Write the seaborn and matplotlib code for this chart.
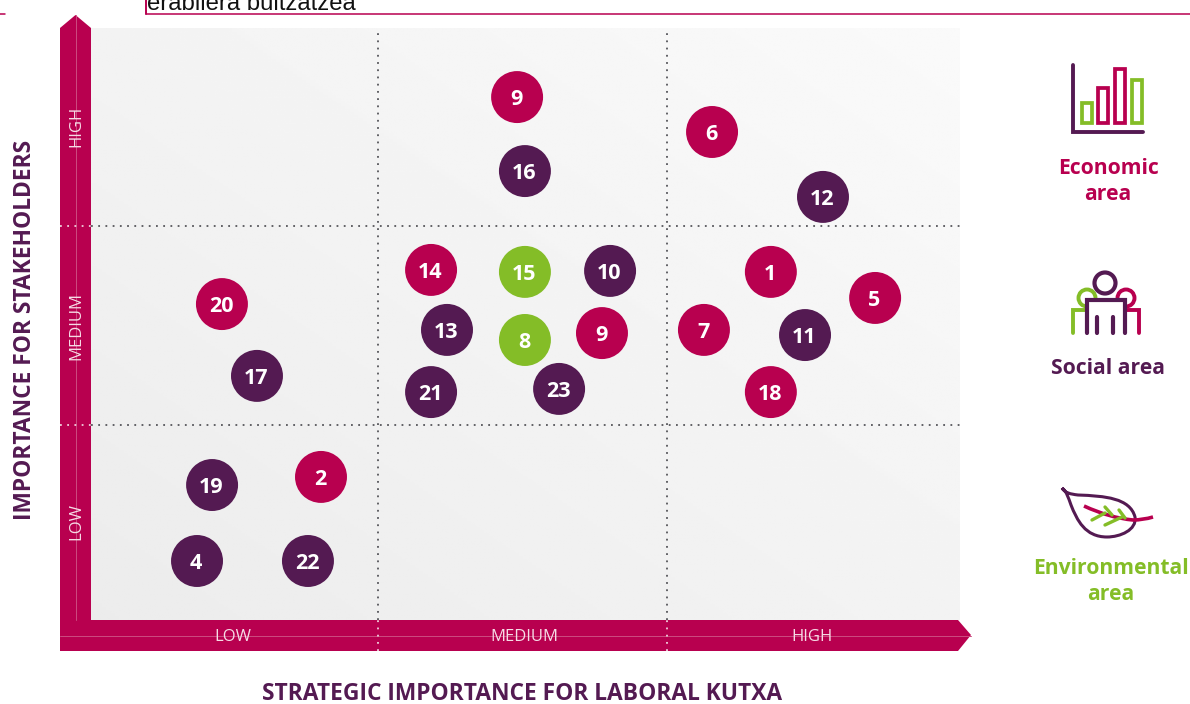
import numpy as np
import pandas as pd
import matplotlib
matplotlib.use("Agg")
import matplotlib.pyplot as plt
from matplotlib.patches import Polygon, Circle, Rectangle, PathPatch
from matplotlib.path import Path
import seaborn as sns

# ---- data (x: strategic importance, y: stakeholder importance; 0-3 scale)
labels = ["9", "16", "6", "12", "14", "15", "10", "1", "5", "20", "13", "9", "7", "8",
          "11", "17", "21", "23", "18", "19", "2", "4", "22"]
x_vals = [1.471, 1.498, 2.144, 2.527, 1.174, 1.498, 1.792, 2.347, 2.707, 0.452, 1.229, 1.764,
          2.116, 1.498, 2.465, 0.573, 1.174, 1.616, 2.347, 0.418, 0.794, 0.366, 0.749]
y_vals = [2.650, 2.275, 2.473, 2.144, 1.774, 1.764, 1.769, 1.764, 1.632, 1.601, 1.470, 1.454,
          1.470, 1.419, 1.444, 1.237, 1.155, 1.171, 1.155, 0.684, 0.725, 0.299, 0.299]
areas = ["Economic", "Social", "Economic", "Social", "Economic", "Environmental", "Social",
         "Economic", "Economic", "Economic", "Social", "Economic", "Economic", "Environmental",
         "Social", "Social", "Social", "Social", "Economic", "Social", "Economic", "Social", "Social"]
level_names = ["LOW", "MEDIUM", "HIGH"]
x_level_centers = [0.49, 1.495, 2.49]
y_level_centers = [0.50, 1.49, 2.50]
dividers_x = [0.99, 1.99]
dividers_y = [0.988, 1.997]

RED, PURPLE, GREEN = "#B8004F", "#541A52", "#84BD27"
palette = {"Economic": RED, "Social": PURPLE, "Environmental": GREEN}
df = pd.DataFrame({"x": x_vals, "y": y_vals, "area": areas, "label": labels})

sns.set_theme(style="white")
plt.rcParams["font.family"] = ["Open Sans", "DejaVu Sans"]

W, H = 1190, 704
fig = plt.figure(figsize=(W / 100, H / 100), dpi=100, facecolor="white")

# ---- overlay in pixel coordinates for page furniture and icons
bg = fig.add_axes([0, 0, 1, 1], zorder=0)
bg.set_xlim(0, W)
bg.set_ylim(H, 0)
bg.axis("off")

# stray header fragment
bg.plot([0, 5], [14, 14], color=RED, lw=1.1)
bg.plot([146, 1190], [14, 14], color=RED, lw=1.1)
bg.plot([146, 146], [0, 14], color=RED, lw=1.4)
bg.text(147, 10, "erabilera buitzatzea", family="Liberation Sans", fontsize=17.2,
        color="#111111", ha="left", va="baseline", clip_on=True)

# arrows
bg.add_patch(Polygon([(60, 651), (60, 28), (75.5, 15), (91, 28), (91, 651)], closed=True, fc=RED, ec="none"))
bg.add_patch(Polygon([(60, 620), (958, 620), (971, 635), (958, 651), (60, 651)], closed=True, fc=RED, ec="none"))
bg.plot([75.5, 75.5], [15, 620], color="#CC4C80", lw=0.7)
bg.plot([60, 971], [635.5, 635.5], color="#CC4C80", lw=0.7)

# economic icon
bg.plot([1073, 1073, 1143], [65, 132, 132], color=PURPLE, lw=2.8, solid_joinstyle="miter")
for (x0, x1, y0, c) in [(1082, 1092, 103, GREEN), (1098, 1108, 88, RED),
                        (1115, 1125, 69, RED), (1132, 1142, 80, GREEN)]:
    bg.add_patch(Rectangle((x0, y0), x1 - x0, 123 - y0, fc="none", ec=c, lw=2.7))

# social icon
bg.add_patch(Circle((1087, 298), 8.5, fc="none", ec=GREEN, lw=2.8))
bg.add_patch(Circle((1126, 298), 8.5, fc="none", ec=RED, lw=2.8))
bg.plot([1073, 1073, 1087], [333, 310, 310], color=GREEN, lw=2.8, solid_joinstyle="miter")
bg.plot([1139, 1139, 1125], [333, 310, 310], color=RED, lw=2.8, solid_joinstyle="miter")
bg.add_patch(Rectangle((1087, 300), 38, 33, fc="white", ec="none", zorder=3))
bg.add_patch(Circle((1105, 283), 10.5, fc="white", ec=PURPLE, lw=3.0, zorder=4))
bg.plot([1087, 1087, 1125, 1125], [333, 300, 300, 333], color=PURPLE, lw=3.0, solid_joinstyle="miter", zorder=5)
bg.plot([1097, 1097], [317, 333], color=PURPLE, lw=3.0, zorder=5)
bg.plot([1113, 1113], [317, 333], color=PURPLE, lw=3.0, zorder=5)

# environmental icon
C4 = Path.CURVE4
leaf = Path([(1062, 488),
             (1065, 493), (1070, 494), (1078, 495),
             (1105, 496), (1130, 498), (1135, 517),
             (1137, 530), (1120, 537), (1107, 537),
             (1085, 537), (1077, 520), (1071, 505),
             (1068, 497), (1067, 492), (1062, 488)],
            [Path.MOVETO] + [C4] * 15)
bg.add_patch(PathPatch(leaf, fc="none", ec=PURPLE, lw=2.2))
for seg in [((1092, 520), (1105, 513)), ((1105, 507), (1112, 515)),
            ((1105, 525), (1122, 517)), ((1119, 510), (1125, 518))]:
    bg.plot(*zip(*seg), color=GREEN, lw=2.4)
vein = Path([(1084, 506), (1110, 518), (1133, 520), (1143, 520), (1153, 517)],
            [Path.MOVETO, Path.CURVE3, Path.CURVE3, Path.CURVE3, Path.CURVE3])
bg.add_patch(PathPatch(vein, fc="none", ec=RED, lw=2.6))

# area captions
for txt, px, py, c in [("Economic", 1108, 168, RED), ("area", 1108, 194, RED),
                       ("Social area", 1108, 369, PURPLE),
                       ("Environmental", 1111, 569, GREEN), ("area", 1111, 595, GREEN)]:
    bg.text(px, py, txt, color=c, fontsize=15.2, fontweight="bold", ha="center", va="center")

# ---- main matrix
ax = fig.add_axes([91 / W, 1 - 620 / H, (960 - 91) / W, (620 - 28) / H], zorder=1)
ax.patch.set_alpha(0)
u = np.linspace(0, 1, 200)
shade = 0.925 + 0.055 * (u[None, :] * 0.5 + u[:, None] * 0.5)
ax.imshow(shade, origin="lower", extent=(0, 3, 0, 3), cmap="gray", vmin=0, vmax=1,
          aspect="auto", zorder=0)

for d in dividers_x:
    ax.plot([d, d], [0, 3], color="#55555A", lw=1.3, ls=(0, (1, 3)), zorder=1)
    ax.plot([d, d], [-0.155, 0], color="#F0D0DC", lw=1.3, ls=(0, (1, 3)), zorder=1, clip_on=False)
for d in dividers_y:
    ax.plot([0, 3], [d, d], color="#55555A", lw=1.3, ls=(0, (1, 3)), zorder=1)
    ax.plot([-0.107, 0], [d, d], color="#F0D0DC", lw=1.3, ls=(0, (1, 3)), zorder=1, clip_on=False)

sns.scatterplot(data=df, x="x", y="y", hue="area", palette=palette, s=1400, linewidth=0,
                legend=False, ax=ax, zorder=3, clip_on=False)
for _, r in df.iterrows():
    ax.text(r["x"] - 0.003, r["y"] - 0.001, r["label"], color="white", fontsize=15.5, fontweight="bold",
            ha="center", va="center_baseline", zorder=4)

ax.set_xlim(0, 3)
ax.set_ylim(0, 3)
ax.set_xticks(x_level_centers, level_names, color="#F6DCE6", fontsize=12)
ax.set_yticks(y_level_centers, level_names, color="#F6DCE6", fontsize=12, rotation=90, va="center")
ax.tick_params(axis="both", length=0)
ax.tick_params(axis="x", pad=6.5)
ax.tick_params(axis="y", pad=5)
ax.set_xlabel("STRATEGIC IMPORTANCE FOR LABORAL KUTXA", color=PURPLE, fontsize=16.4, fontweight="bold")
ax.set_ylabel("IMPORTANCE FOR STAKEHOLDERS", color=PURPLE, fontsize=16.4, fontweight="bold")
ax.xaxis.set_label_coords((522 - 91) / 869, -(694 - 620) / 592, transform=ax.transAxes)
ax.xaxis.label.set_verticalalignment("center")
ax.yaxis.set_label_coords((25 - 91) / 869, (620 - 330) / 592, transform=ax.transAxes)
ax.yaxis.label.set_verticalalignment("center")
sns.despine(ax=ax, left=True, bottom=True)

fig.savefig("out.png", dpi=100)
